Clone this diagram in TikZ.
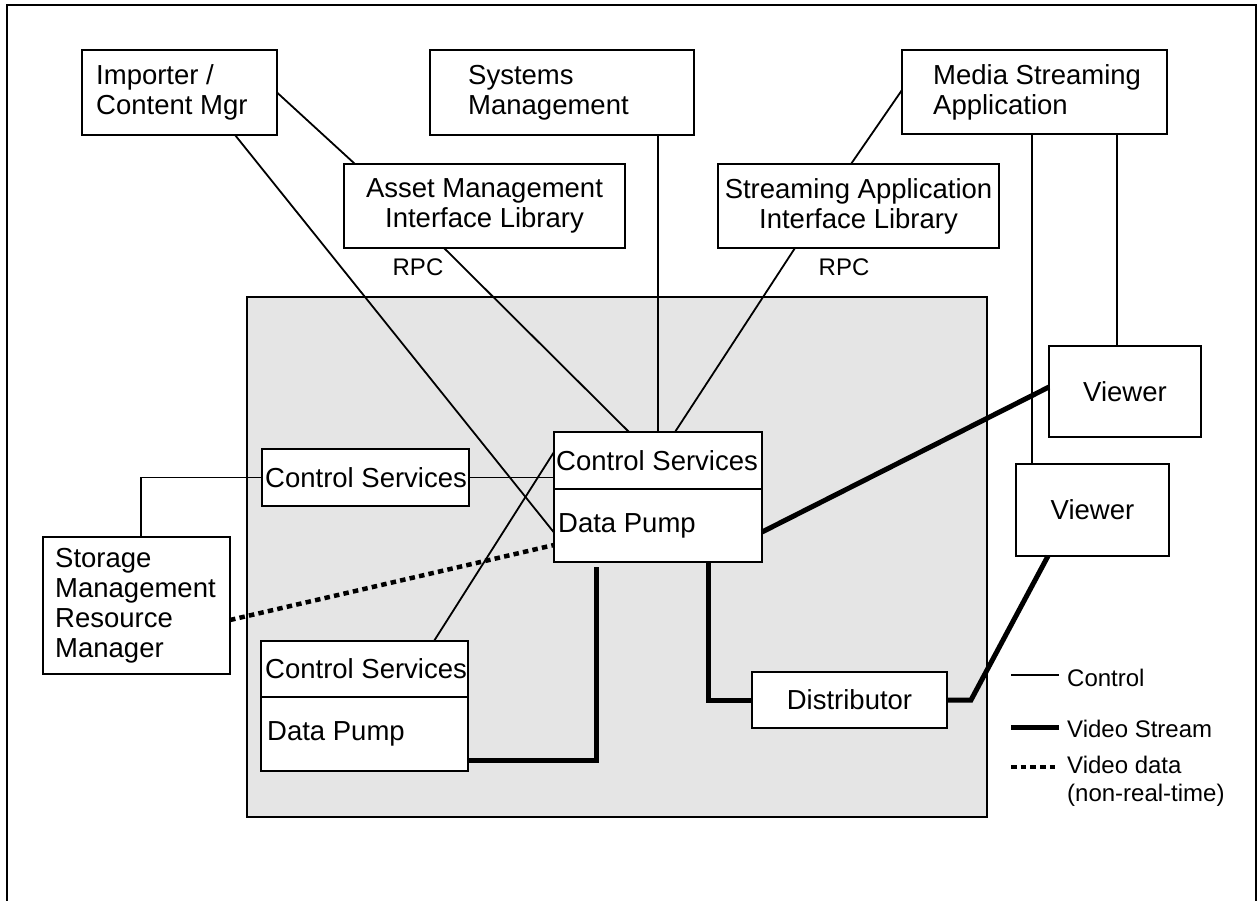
\documentclass[tikz,border=0pt]{standalone}
\usepackage{fontspec}
\setmainfont{Liberation Sans}
\newcommand\lblfont{\fontsize{27.5}{30}\selectfont}
\newcommand\legfont{\fontsize{24}{28}\selectfont}

\tikzset{
  unit/.style={draw, line width=2.4pt, fill=white, inner sep=0pt, outer sep=0pt},
  txt/.style={font=\lblfont, inner sep=0pt, align=left, anchor=west},
  ctxt/.style={font=\lblfont, inner sep=0pt, align=center},
  smalltxt/.style={font=\legfont, inner sep=0pt, align=left},
  ctrl/.style={line width=1.8pt},
  vid/.style={line width=5pt},
  nrt/.style={line width=4.5pt, dash pattern=on 5.5pt off 4.2pt},
}

\begin{document}
\begin{tikzpicture}[x=1pt,y=-1pt]
\useasboundingbox (0,0) rectangle (1260,901);

% outer frame (open at the bottom)
\draw[line width=2.4pt] (7,901) -- (7,5) -- (1256,5) -- (1256,901);

% server core region
\node[draw, line width=2.4pt, fill=black!10, inner sep=0pt, outer sep=0pt,
      minimum width=740pt, minimum height=520pt] (core) at (617,557) {};

% top row: clients
\node[unit, minimum width=195pt, minimum height=85pt] (imp) at (179.5,92.5) {};
\node[txt] (impt) at ([xshift=14pt]imp.west) {Importer /\\Content Mgr};

\node[unit, minimum width=264pt, minimum height=85pt] (sys) at (562,92.5) {};
\node[txt] (syst) at ([xshift=38pt]sys.west) {Systems\\Management};

\node[unit, minimum width=265pt, minimum height=84pt] (msa) at (1034.5,92) {};
\node[txt] (msat) at ([xshift=31pt]msa.west) {Media Streaming\\Application};

% interface libraries
\node[unit, minimum width=281pt, minimum height=84pt] (aml) at (484.5,206) {};
\node[ctxt] (amlt) at (aml.center) {Asset Management\\Interface Library};

\node[unit, minimum width=281pt, minimum height=84pt] (sal) at (858.5,206) {};
\node[ctxt] (salt) at (sal.center) {Streaming Application\\Interface Library};

\node[smalltxt] (rpc1) at (418,267) {RPC};
\node[smalltxt] (rpc2) at (844,267) {RPC};

% control services (upper left)
\node[unit, minimum width=207pt, minimum height=57pt] (cs2) at (365.5,477.5) {};
\node[txt] (cs2t) at ([xshift=3pt]cs2.west) {Control Services};

% main control services / data pump
\node[unit, minimum width=208pt, minimum height=57pt] (cs) at (658,460.5) {};
\node[txt] (cst) at ([xshift=2pt]cs.west) {Control Services};
\node[unit, minimum width=208pt, minimum height=73pt] (dp) at (658,525.5) {};
\node[txt] (dpt) at ([xshift=4pt]dp.west) {Data Pump};

% storage manager
\node[unit, minimum width=187pt, minimum height=137pt] (st) at (136.5,605.5) {};
\node[txt] (stt) at ([xshift=12pt]st.west) {Storage\\Management\\Resource\\Manager};

% lower control services / data pump
\node[unit, minimum width=207pt, minimum height=56pt] (lcs) at (364.5,669) {};
\node[txt] (lcst) at ([xshift=4pt]lcs.west) {Control Services};
\node[unit, minimum width=207pt, minimum height=74pt] (ldp) at (364.5,734) {};
\node[txt] (ldpt) at ([xshift=6pt]ldp.west) {Data Pump};

% distributor and viewers
\node[unit, minimum width=195pt, minimum height=56pt] (dist) at (849.5,700) {};
\node[ctxt] (distt) at (dist.center) {Distributor};

\node[unit, minimum width=152pt, minimum height=91pt] (v1) at (1125,391.5) {};
\node[ctxt] (v1t) at (v1.center) {Viewer};

\node[unit, minimum width=153pt, minimum height=92pt] (v2) at (1092.5,510) {};
\node[ctxt] (v2t) at (v2.center) {Viewer};

% control connections
\draw[ctrl] (imp.east) -- ([xshift=11pt]aml.north west);
\draw[ctrl] ([xshift=-42pt]imp.south east) -- ([yshift=-7pt]dp.west);
\draw[ctrl] ([xshift=-40.5pt]aml.south) -- ([xshift=-29pt]cs.north);
\draw[ctrl] (sys.south -| cs.north) -- (cs.north);
\draw[ctrl] ([xshift=-63.5pt]sal.south) -- ([xshift=17pt]cs.north);
\draw[ctrl] ([yshift=2pt]msa.west) -- ([xshift=-7.5pt]sal.north);
\draw[ctrl] ([xshift=16pt]v2.north west) -- ([xshift=16pt]v2.north west |- msa.south);
\draw[ctrl] ([xshift=-8pt]v1.north) -- ([xshift=-8pt]v1.north |- msa.south);
\draw[ctrl] (cs2.east) -- (cs2.east -| cs.west);
\draw[ctrl] ([xshift=4.5pt]st.north) |- (cs2.west);
\draw[ctrl] ([xshift=69.5pt]lcs.north) -- ([yshift=8.5pt]cs.west);

% non-real-time video data
\draw[nrt] ([yshift=-14.5pt]st.east) -- ([yshift=-19.5pt]dp.west);

% video streams
\draw[vid] ([yshift=-26pt]ldp.east) -| ([xshift=42pt,yshift=-5pt]dp.south west);
\draw[vid] ([xshift=154pt]dp.south west) |- (dist.west);
\draw[vid] (dist.east) -- ++(24,0) -- ([xshift=32pt]v2.south west);
\draw[vid] ([yshift=-6.5pt]dp.east) -- ([yshift=4.5pt]v1.west);

% legend
\coordinate (l1a) at (1011,675); \coordinate (l1b) at (1059,675);
\coordinate (l2a) at (1011,727); \coordinate (l2b) at (1059,727);
\coordinate (l3a) at (1011,767); \coordinate (l3b) at (1059,767);
\draw[ctrl] (l1a) -- (l1b);
\draw[vid] (l2a) -- (l2b);
\draw[nrt] (l3a) -- (l3b);
\node[smalltxt, anchor=west] (lt1) at (1067,678) {Control};
\node[smalltxt, anchor=west] (lt2) at (1067,729) {Video Stream};
\node[smalltxt, anchor=west] (lt3) at (1067,781) {Video data\\(non-real-time)};
\end{tikzpicture}
\end{document}
